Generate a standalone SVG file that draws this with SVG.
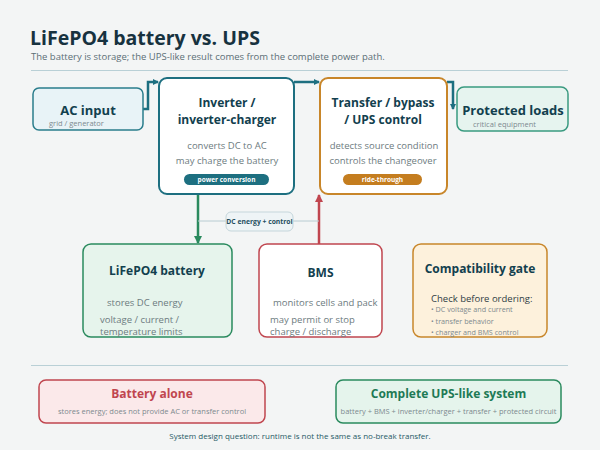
<svg xmlns="http://www.w3.org/2000/svg" width="600" height="450" viewBox="0 0 600 450">
<defs>
<style>
text{font-family:"Open Sans","Noto Sans","DejaVu Sans",sans-serif}
.t{font-weight:700;fill:#12404e;text-anchor:middle}
.d{font-size:9.5px;fill:#6d7b80}
.s{font-size:7.5px;fill:#7d8a8f}
.pill{font-size:6.5px;font-weight:700;fill:#fff;text-anchor:middle}
.c{fill:none;stroke-width:2.5}
</style>
<marker id="aT" markerWidth="6" markerHeight="6" refX="5" refY="3" orient="auto" markerUnits="userSpaceOnUse"><path d="M0,0 L6,3 L0,6 Z" fill="#1d6f80"/></marker>
<marker id="aG" markerWidth="8" markerHeight="8" refX="7" refY="4" orient="auto" markerUnits="userSpaceOnUse"><path d="M0,0 L8,4 L0,8 Z" fill="#2a8a5e"/></marker>
<marker id="aR" markerWidth="8" markerHeight="8" refX="7" refY="4" orient="auto" markerUnits="userSpaceOnUse"><path d="M0,0 L8,4 L0,8 Z" fill="#c0464f"/></marker>
</defs>
<rect width="600" height="450" fill="#f3f5f5"/>
<text x="30" y="45" style="font-size:19.5px;font-weight:700;fill:#17323f">LiFePO4 battery vs. UPS</text>
<text x="31" y="60" style="font-size:9.5px;fill:#5b6e76">The battery is storage; the UPS-like result comes from the complete power path.</text>
<line x1="31" y1="70.5" x2="568" y2="70.5" stroke="#b9d0d6" stroke-width="1.2"/>

<g id="connectors">
<path class="c" d="M143,109 H148 V82 H158" stroke="#1d6f80" marker-end="url(#aT)"/>
<path class="c" d="M294,82 H319" stroke="#1d6f80" marker-end="url(#aT)"/>
<path class="c" d="M447,82 H453 V109" stroke="#1d6f80" marker-end="url(#aT)"/>
<path class="c" d="M198,194 V243" stroke="#2a8a5e" marker-end="url(#aG)"/>
<path class="c" d="M319,245 V195" stroke="#c0464f" marker-end="url(#aR)"/>
<line x1="198" y1="221" x2="319" y2="221" stroke="#b8ccd2" stroke-width="1"/>
<rect x="226" y="212" width="67" height="19" rx="5" fill="#eef4f6" stroke="#c5d6db"/>
<text x="259.5" y="224" style="font-size:6.8px;font-weight:700;fill:#1f4f5f;text-anchor:middle">DC energy + control</text>
</g>

<g id="ac-input">
<rect x="33" y="88" width="110" height="42" rx="6" fill="#e8f3f7" stroke="#2a7d8c" stroke-width="1.5"/>
<text class="t" x="88" y="115" style="font-size:13px">AC input</text>
<text class="s" x="49" y="126">grid / generator</text>
</g>

<g id="inverter">
<rect x="159" y="78" width="135" height="116" rx="8" fill="#fff" stroke="#1d6f80" stroke-width="2"/>
<text class="t" x="227" y="107" style="font-size:12px">Inverter /</text>
<text class="t" x="227" y="124" style="font-size:12px">inverter-charger</text>
<text class="d" x="227" y="149" text-anchor="middle">converts DC to AC</text>
<text class="d" x="227" y="164" text-anchor="middle">may charge the battery</text>
<rect x="184" y="174" width="85" height="11" rx="5.5" fill="#1d6f80"/>
<text class="pill" x="226.5" y="182">power conversion</text>
</g>

<g id="transfer">
<rect x="320" y="78" width="127" height="116" rx="8" fill="#fff" stroke="#c8862a" stroke-width="2"/>
<text class="t" x="383" y="107" style="font-size:12px">Transfer / bypass</text>
<text class="t" x="383" y="124" style="font-size:12px">/ UPS control</text>
<text class="d" x="384" y="149" text-anchor="middle">detects source condition</text>
<text class="d" x="383" y="164" text-anchor="middle">controls the changeover</text>
<rect x="343" y="174" width="79" height="11" rx="5.5" fill="#c47d1f"/>
<text class="pill" x="382.5" y="182">ride-through</text>
</g>

<g id="protected-loads">
<rect x="457" y="87" width="111" height="44" rx="7" fill="#e6f4ef" stroke="#3a9a80" stroke-width="1.5"/>
<text class="t" x="513" y="115" style="font-size:13px">Protected loads</text>
<text class="s" x="473" y="127">critical equipment</text>
</g>

<g id="battery">
<rect x="83" y="244" width="149" height="93" rx="8" fill="#e6f4ec" stroke="#2a8a5e" stroke-width="1.5"/>
<text class="t" x="157" y="275" style="font-size:12px">LiFePO4 battery</text>
<text class="d" x="107" y="306">stores DC energy</text>
<text class="d" x="100" y="323">voltage / current /</text>
<text class="d" x="100" y="335">temperature limits</text>
</g>

<g id="bms">
<rect x="259" y="244" width="123" height="93" rx="8" fill="#fff" stroke="#c0464f" stroke-width="1.5"/>
<text class="t" x="320.5" y="277" style="font-size:12px">BMS</text>
<text class="d" x="273" y="306">monitors cells and pack</text>
<text class="d" x="270" y="323">may permit or stop</text>
<text class="d" x="270" y="335">charge / discharge</text>
</g>

<g id="compatibility">
<rect x="413" y="244" width="134" height="93" rx="8" fill="#fdf1dc" stroke="#c8862a" stroke-width="1.5"/>
<text class="t" x="480" y="273" style="font-size:12px">Compatibility gate</text>
<text x="431" y="302" style="font-size:9.5px;fill:#2f3d44">Check before ordering:</text>
<text class="s" x="431" y="312" style="font-size:7.2px">• DC voltage and current</text>
<text class="s" x="431" y="324" style="font-size:7.2px">• transfer behavior</text>
<text class="s" x="431" y="335" style="font-size:7.2px">• charger and BMS control</text>
</g>

<line x1="31" y1="365.5" x2="568" y2="365.5" stroke="#b9d0d6" stroke-width="1.2"/>

<g id="battery-alone">
<rect x="39" y="380" width="226" height="43" rx="7" fill="#fbe9ea" stroke="#c0464f" stroke-width="1.5"/>
<text x="152" y="398" style="font-size:12px;font-weight:700;fill:#c0464f;text-anchor:middle">Battery alone</text>
<text class="s" x="152" y="414" text-anchor="middle">stores energy; does not provide AC or transfer control</text>
</g>

<g id="complete-system">
<rect x="336" y="380" width="225" height="43" rx="7" fill="#e5f4ec" stroke="#2a8a5e" stroke-width="1.5"/>
<text x="448.5" y="398" style="font-size:12px;font-weight:700;fill:#1e7a55;text-anchor:middle">Complete UPS-like system</text>
<text class="s" x="448.5" y="414" text-anchor="middle">battery + BMS + inverter/charger + transfer + protected circuit</text>
</g>

<text x="300" y="439" style="font-size:8px;fill:#1f5a66;text-anchor:middle">System design question: runtime is not the same as no-break transfer.</text>
</svg>
